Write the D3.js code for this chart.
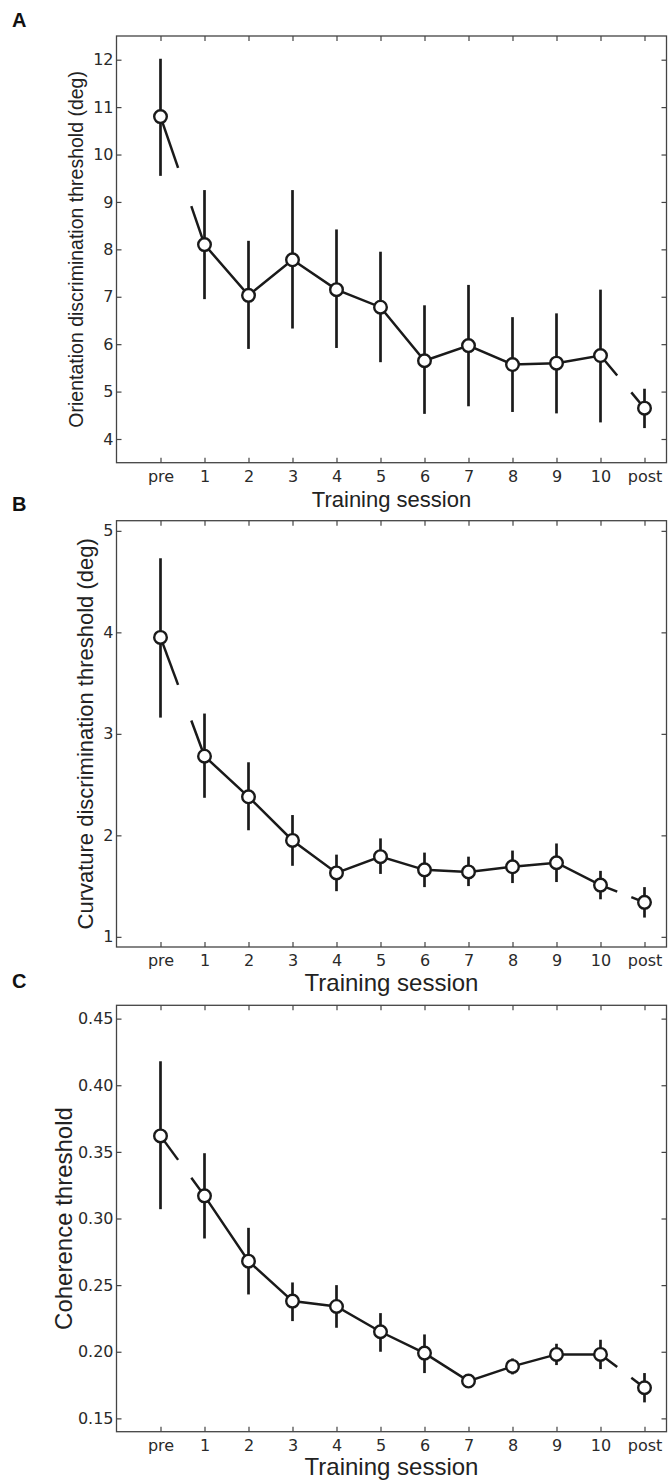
<!DOCTYPE html>
<html>
<head>
<meta charset="utf-8">
<script src="https://cdn.jsdelivr.net/npm/d3@7"></script>
<style>
  body { margin: 0; background: #fff; }
  svg { display: block; }
  .tick text { font-family: 'DejaVu Sans', sans-serif; font-size: 16px; fill: #2a2a2a; }
  .axis-label { font-family: 'Liberation Sans', Arial, sans-serif; fill: #222; }
  .panel-letter { font-family: 'Liberation Sans', Arial, sans-serif; font-weight: bold; font-size: 20px; fill: #111; }
</style>
</head>
<body>
<svg width="668" height="1480"></svg>
<script>
const sessions = ['pre', '1', '2', '3', '4', '5', '6', '7', '8', '9', '10', 'post'];

// panel A: orientation
const orientMean = [10.8, 8.1, 7.03, 7.78, 7.15, 6.78, 5.65, 5.97, 5.57, 5.6, 5.76, 4.65];
const orientLow  = [9.55, 6.95, 5.9, 6.33, 5.92, 5.62, 4.53, 4.69, 4.57, 4.54, 4.35, 4.23];
const orientHigh = [12.02, 9.25, 8.18, 9.25, 8.42, 7.95, 6.82, 7.25, 6.57, 6.65, 7.15, 5.06];
const orientTicks = [4, 5, 6, 7, 8, 9, 10, 11, 12];

// panel B: curvature
const curvMean = [3.95, 2.78, 2.38, 1.95, 1.63, 1.79, 1.66, 1.64, 1.69, 1.73, 1.51, 1.34];
const curvLow  = [3.16, 2.37, 2.05, 1.7, 1.45, 1.62, 1.49, 1.5, 1.53, 1.54, 1.37, 1.19];
const curvHigh = [4.73, 3.2, 2.72, 2.2, 1.81, 1.97, 1.83, 1.79, 1.85, 1.92, 1.65, 1.49];
const curvTicks = [1, 2, 3, 4, 5];

// panel C: coherence
const cohMean = [0.362, 0.317, 0.268, 0.238, 0.234, 0.215, 0.199, 0.178, 0.189, 0.198, 0.198, 0.173];
const cohLow  = [0.307, 0.285, 0.243, 0.223, 0.218, 0.2, 0.184, 0.175, 0.183, 0.19, 0.187, 0.162];
const cohHigh = [0.418, 0.349, 0.293, 0.252, 0.25, 0.229, 0.213, 0.181, 0.195, 0.206, 0.209, 0.184];
const cohTicks = [0.15, 0.20, 0.25, 0.30, 0.35, 0.40, 0.45];

const svg = d3.select('svg');
const left = 116.5, right = 666.5;
const ink = '#1a1a1a';

const xscale = d3.scaleLinear()
    .domain([-1, 11.5])
    .range([left, right]);

function drawPanel(o) {
    const yscale = d3.scaleLinear()
        .domain(o.domain)
        .range([o.bottom, o.top]);

    const g = svg.append('g');
    const idx = sessions.map((s, i) => i);

    // inward ticks on all four sides
    const xAxisB = d3.axisBottom(xscale).tickValues(idx).tickFormat(i => sessions[i]).tickSizeInner(-5).tickSizeOuter(0).tickPadding(8);
    const xAxisT = d3.axisTop(xscale).tickValues(idx).tickFormat('').tickSizeInner(-5).tickSizeOuter(0);
    const yAxisL = d3.axisLeft(yscale).tickValues(o.ticks).tickFormat(o.fmt).tickSizeInner(-5).tickSizeOuter(0).tickPadding(3);
    const yAxisR = d3.axisRight(yscale).tickValues(o.ticks).tickFormat('').tickSizeInner(-5).tickSizeOuter(0);

    const axes = [
        g.append('g').attr('transform', `translate(0,${o.bottom})`).call(xAxisB),
        g.append('g').attr('transform', `translate(0,${o.top})`).call(xAxisT),
        g.append('g').attr('transform', `translate(${left},0)`).call(yAxisL),
        g.append('g').attr('transform', `translate(${right},0)`).call(yAxisR)
    ];
    axes.forEach(a => {
        a.selectAll('.domain').remove();
        a.selectAll('.tick line').attr('stroke', '#444').attr('stroke-width', 1.2);
    });

    g.append('rect')
        .attr('x', left).attr('y', o.top)
        .attr('width', right - left).attr('height', o.bottom - o.top)
        .attr('fill', 'none').attr('stroke', '#444').attr('stroke-width', 1.3);

    // error bars
    g.selectAll('line.err').data(idx)
        .enter().append('line')
            .attr('class', 'err')
            .attr('x1', i => xscale(i)).attr('x2', i => xscale(i))
            .attr('y1', i => yscale(o.low[i])).attr('y2', i => yscale(o.high[i]))
            .attr('stroke', ink).attr('stroke-width', 2.7);

    // connecting line, broken between pre/1 and 10/post
    const line = d3.line().x(d => xscale(d[0])).y(d => yscale(d[1]));
    const lerp = (i, f) => [i + f, o.mean[i] + f * (o.mean[i + 1] - o.mean[i])];
    const pieces = [
        [[0, o.mean[0]], lerp(0, 0.4)],
        [lerp(0, 0.7)].concat(idx.slice(1, 11).map(i => [i, o.mean[i]])).concat([lerp(10, 0.38)]),
        [lerp(10, 0.7), [11, o.mean[11]]]
    ];
    g.selectAll('path.trend').data(pieces)
        .enter().append('path')
            .attr('class', 'trend')
            .attr('d', line)
            .attr('fill', 'none').attr('stroke', ink).attr('stroke-width', 2.5);

    g.selectAll('circle').data(idx)
        .enter().append('circle')
            .attr('cx', i => xscale(i))
            .attr('cy', i => yscale(o.mean[i]))
            .attr('r', 6.3)
            .attr('fill', '#fff').attr('stroke', ink).attr('stroke-width', 2.4);

    g.append('text')
        .attr('class', 'axis-label')
        .text('Training session')
        .attr('x', (left + right) / 2)
        .attr('y', o.bottom + o.titleDy)
        .attr('text-anchor', 'middle')
        .style('font-size', o.titleSize + 'px');

    g.append('text')
        .attr('class', 'axis-label')
        .text(o.ylabel)
        .attr('transform', `translate(${o.ylabelX},${(o.top + o.bottom) / 2}) rotate(-90)`)
        .attr('text-anchor', 'middle')
        .style('font-size', o.ylabelSize + 'px');

    g.append('text')
        .attr('class', 'panel-letter')
        .text(o.letter)
        .attr('x', 12).attr('y', o.letterY);
}

drawPanel({
    letter: 'A', letterY: 27,
    top: 36, bottom: 462.7, domain: [3.5, 12.5],
    mean: orientMean, low: orientLow, high: orientHigh,
    ticks: orientTicks, fmt: d3.format('d'),
    ylabel: 'Orientation discrimination threshold (deg)', ylabelX: 83, ylabelSize: 19.5,
    titleDy: 44, titleSize: 22
});

drawPanel({
    letter: 'B', letterY: 511,
    top: 520.7, bottom: 947, domain: [0.9, 5.1],
    mean: curvMean, low: curvLow, high: curvHigh,
    ticks: curvTicks, fmt: d3.format('d'),
    ylabel: 'Curvature discrimination threshold (deg)', ylabelX: 93, ylabelSize: 22,
    titleDy: 44, titleSize: 24
});

drawPanel({
    letter: 'C', letterY: 987.5,
    top: 1005.3, bottom: 1431.7, domain: [0.14, 0.46],
    mean: cohMean, low: cohLow, high: cohHigh,
    ticks: cohTicks, fmt: d3.format('.2f'),
    ylabel: 'Coherence threshold', ylabelX: 71.5, ylabelSize: 24,
    titleDy: 43.5, titleSize: 24
});
</script>
</body>
</html>
